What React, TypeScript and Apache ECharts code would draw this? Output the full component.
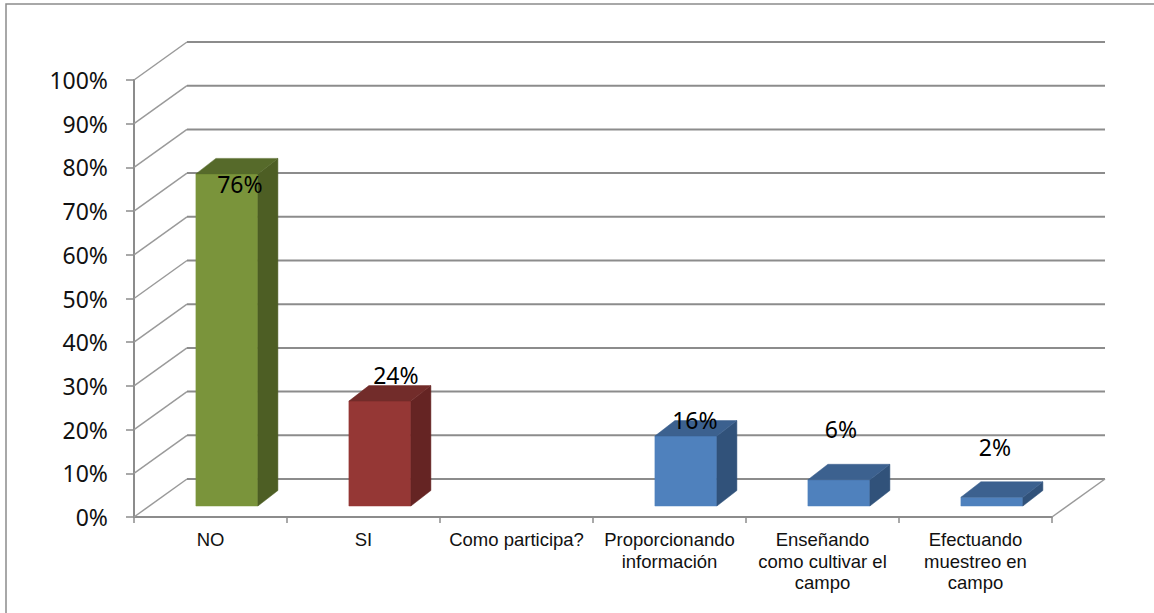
import React, { useEffect, useRef } from "react";
import * as echarts from "echarts";

const categories = [
  "NO",
  "SI",
  "Como participa?",
  "Proporcionando\ninformación",
  "Enseñando\ncomo cultivar el\ncampo",
  "Efectuando\nmuestreo en\ncampo",
];
const values: (number | null)[] = [76, 24, null, 16, 6, 2];
const tickValues = [0, 10, 20, 30, 40, 50, 60, 70, 80, 90, 100];

const faceColors = [
  { front: "#7A943B", side: "#4D5E24", top: "#566A2A" },
  { front: "#953735", side: "#652423", top: "#722C2A" },
  { front: "#4F81BD", side: "#31527A", top: "#3C618F" },
  { front: "#4F81BD", side: "#31527A", top: "#3C618F" },
  { front: "#4F81BD", side: "#31527A", top: "#3C618F" },
  { front: "#4F81BD", side: "#31527A", top: "#3C618F" },
];
// hand placement of each data label relative to the top-front-centre of its bar
const labelNudge = [
  [13, 10],
  [16, -26],
  [0, 0],
  [9, -16],
  [2, -51],
  [3, -50],
];

const NUM_FONT = '"Noto Sans", "Open Sans", sans-serif';
const WALL = { dx: 53, dy: -38 };
const BASE = { dx: 16.4, dy: -11 };
const DEPTH = { dx: 20, dy: -15.5 };
const BAR_W = 62;
const AXIS = "#8C8C8C";

const renderWalls = (params: any, api: any) => {
  const v = api.value(0);
  const cs = params.coordSys;
  const y = api.coord([0, v])[1];
  const x0 = cs.x;
  const x1 = cs.x + cs.width;
  const bx = x0 + WALL.dx;
  const by = y + WALL.dy;
  const children: any[] = [
    {
      type: "line",
      shape: { x1: x0, y1: y, x2: bx, y2: by },
      style: { stroke: "#9A9A9A", lineWidth: 1.5 },
    },
    {
      type: "line",
      shape: { x1: bx, y1: by, x2: x1 + WALL.dx, y2: by },
      style: { stroke: AXIS, lineWidth: 2 },
    },
  ];
  if (v === 0) {
    children.push({
      type: "line",
      shape: { x1: x1, y1: y, x2: x1 + WALL.dx, y2: by },
      style: { stroke: "#9A9A9A", lineWidth: 1.5 },
    });
  }
  return { type: "group", children };
};

const renderBar = (params: any, api: any) => {
  const idx = api.value(0);
  const val = api.value(1);
  const top = api.coord([idx, val]);
  const bottom = api.coord([idx, 0]);
  const c = faceColors[idx];
  const l = top[0] + BASE.dx - BAR_W / 2;
  const r = l + BAR_W;
  const t = top[1] + BASE.dy;
  const b = bottom[1] + BASE.dy;
  const face = (points: number[][], fill: string) => ({
    type: "polygon",
    shape: { points },
    style: { fill, stroke: fill, lineWidth: 0.5 },
  });
  const nudge = labelNudge[idx];
  return {
    type: "group",
    children: [
      face([[l, t], [r, t], [r, b], [l, b]], c.front),
      face([[r, t], [r + DEPTH.dx, t + DEPTH.dy], [r + DEPTH.dx, b + DEPTH.dy], [r, b]], c.side),
      face([[l, t], [l + DEPTH.dx, t + DEPTH.dy], [r + DEPTH.dx, t + DEPTH.dy], [r, t]], c.top),
      {
        type: "text",
        style: {
          x: (l + r) / 2 + nudge[0],
          y: t + nudge[1],
          text: val + "%",
          fill: "#000",
          font: `23px ${NUM_FONT}`,
          textAlign: "center",
          textVerticalAlign: "middle",
        },
      },
    ],
  };
};

export default function App() {
  const ref = useRef<HTMLDivElement>(null);
  useEffect(() => {
    const chart = echarts.init(ref.current as HTMLDivElement, undefined, { renderer: "svg" });
    chart.setOption({
      animation: false,
      backgroundColor: "#FFFFFF",
      grid: { left: 134, right: 102, top: 80, bottom: 96, containLabel: false },
      graphic: [
        {
          type: "polyline",
          shape: { points: [[6, 613], [6, 4], [1154, 4]] },
          style: { fill: "none", stroke: "#8C8C8C", lineWidth: 1.5 },
        },
      ],
      xAxis: {
        type: "category",
        data: categories,
        boundaryGap: true,
        axisLine: { show: true, lineStyle: { color: AXIS, width: 2 } },
        axisTick: { show: true, length: 6, lineStyle: { color: AXIS, width: 1.5 } },
        axisLabel: {
          interval: 0,
          margin: 12,
          color: "#111",
          fontFamily: '"Liberation Sans", Arial, sans-serif',
          fontSize: 18.5,
          lineHeight: 21.5,
        },
        splitLine: { show: false },
      },
      yAxis: {
        type: "value",
        min: 0,
        max: 100,
        interval: 10,
        axisLine: { show: true, lineStyle: { color: AXIS, width: 2 } },
        axisTick: { show: true, length: 8, lineStyle: { color: AXIS, width: 1.5 } },
        axisLabel: {
          margin: 26,
          color: "#111",
          fontFamily: NUM_FONT,
          fontSize: 23,
          formatter: "{value}%",
        },
        splitLine: { show: false },
      },
      series: [
        {
          type: "custom",
          z: 1,
          renderItem: renderWalls,
          data: tickValues.map((v) => [v]),
          encode: { y: 0 },
          silent: true,
        },
        {
          type: "custom",
          z: 3,
          renderItem: renderBar,
          data: values
            .map((v, i) => [i, v])
            .filter((d) => d[1] !== null),
          encode: { x: 0, y: 1 },
          silent: true,
        },
      ],
    });
    return () => chart.dispose();
  }, []);
  return <div ref={ref} style={{ position: "fixed", left: 0, top: 0, width: 1154, height: 613 }} />;
}
